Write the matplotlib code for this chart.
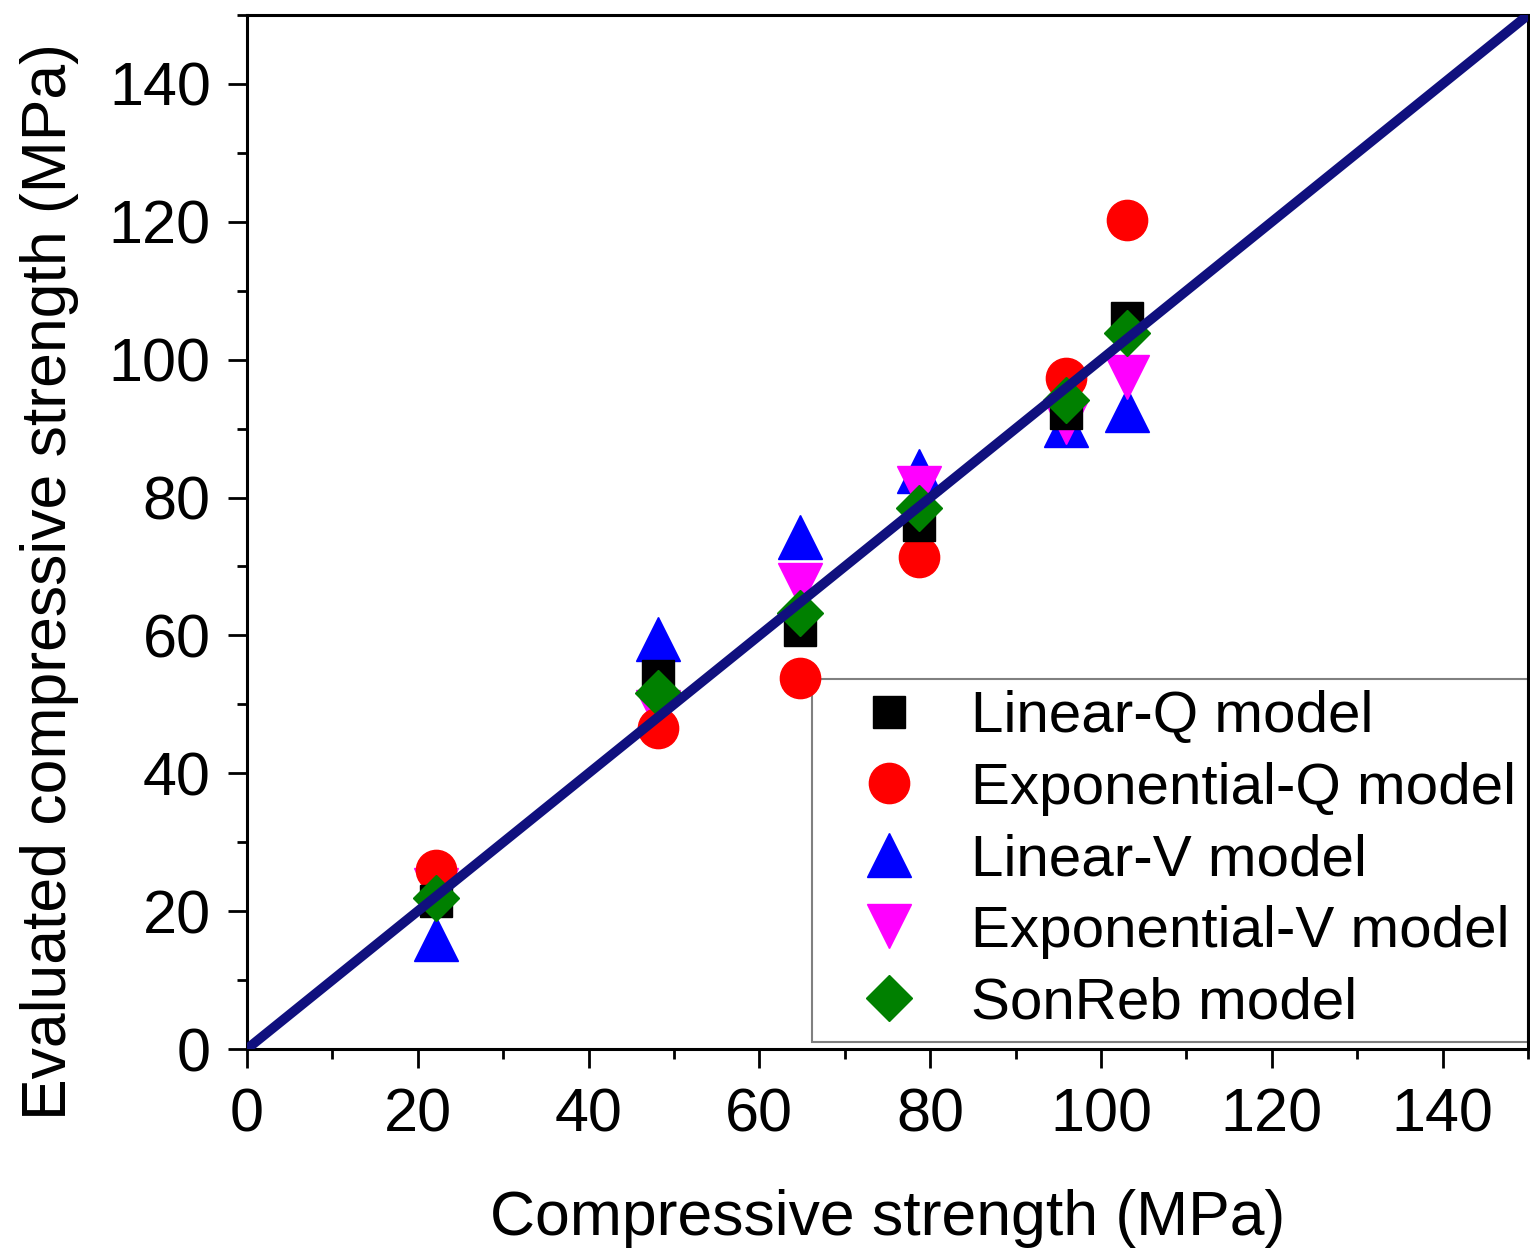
import matplotlib
matplotlib.use("Agg")
import matplotlib.pyplot as plt
from matplotlib.ticker import MultipleLocator

plt.rcParams['font.family'] = ['Liberation Sans', 'DejaVu Sans']

# measured compressive strength of each specimen group (MPa)
measured = [22.1, 48.1, 64.8, 78.7, 95.9, 103.1]

# evaluated strength from each model (MPa)
linear_q = [21.5, 54.1, 60.8, 76.0, 92.3, 106.0]
exponential_q = [26.0, 46.6, 53.8, 71.4, 97.4, 120.3]
linear_v = [16.0, 59.5, 74.3, 83.8, 90.5, 92.7]
exponential_v = [23.1, 48.9, 67.3, 81.4, 91.0, 97.5]
sonreb = [21.9, 51.6, 63.2, 78.5, 94.2, 103.9]

model_names = ['Linear-Q model', 'Exponential-Q model', 'Linear-V model',
               'Exponential-V model', 'SonReb model']

fig = plt.figure(figsize=(15.3, 12.53), dpi=100)
ax = fig.add_axes([0.1614, 0.1628, 0.8373, 0.8252])

ax.plot(measured, linear_q, 's', color='black', ms=23, ls='none', label=model_names[0], zorder=6)
ax.plot(measured, exponential_q, 'o', color='red', ms=29, ls='none', label=model_names[1], zorder=5)
ax.plot(measured, linear_v, '^', color='blue', ms=32, ls='none', label=model_names[2], zorder=3)
ax.plot(measured, exponential_v, 'v', color='magenta', ms=32, ls='none', label=model_names[3], zorder=4)
ax.plot(measured, sonreb, 'D', color='green', ms=23, ls='none', label=model_names[4], zorder=7)

# 1:1 reference line
ax.plot([0, 150], [0, 150], color='#10107e', lw=7, zorder=8)

ax.set_xlim(0, 150)
ax.set_ylim(0, 150)
ax.xaxis.set_major_locator(MultipleLocator(20))
ax.xaxis.set_minor_locator(MultipleLocator(10))
ax.yaxis.set_major_locator(MultipleLocator(20))
ax.yaxis.set_minor_locator(MultipleLocator(10))
ax.tick_params(which='major', direction='out', length=14, width=2, labelsize=44)
ax.tick_params(axis='x', which='major', pad=14)
ax.tick_params(axis='y', which='major', pad=12)
ax.tick_params(which='minor', direction='out', length=7, width=2)
for side in ax.spines.values():
    side.set_linewidth(2.2)

ax.set_xlabel('Compressive strength (MPa)', fontsize=45, labelpad=32)
ax.set_ylabel('Evaluated compressive strength (MPa)', fontsize=45)
ax.yaxis.set_label_coords(-0.131, 0.452)

leg = ax.legend(loc='lower right', bbox_to_anchor=(1.0, 0.0068), fontsize=42,
                frameon=True, fancybox=False, framealpha=1.0,
                edgecolor='#808080', borderaxespad=0.0, handlelength=2.24,
                handletextpad=0.286, labelspacing=0.3, borderpad=0.2)
leg.get_frame().set_linewidth(1.5)
leg.set_zorder(2)

fig.savefig('out.png', dpi=100)
